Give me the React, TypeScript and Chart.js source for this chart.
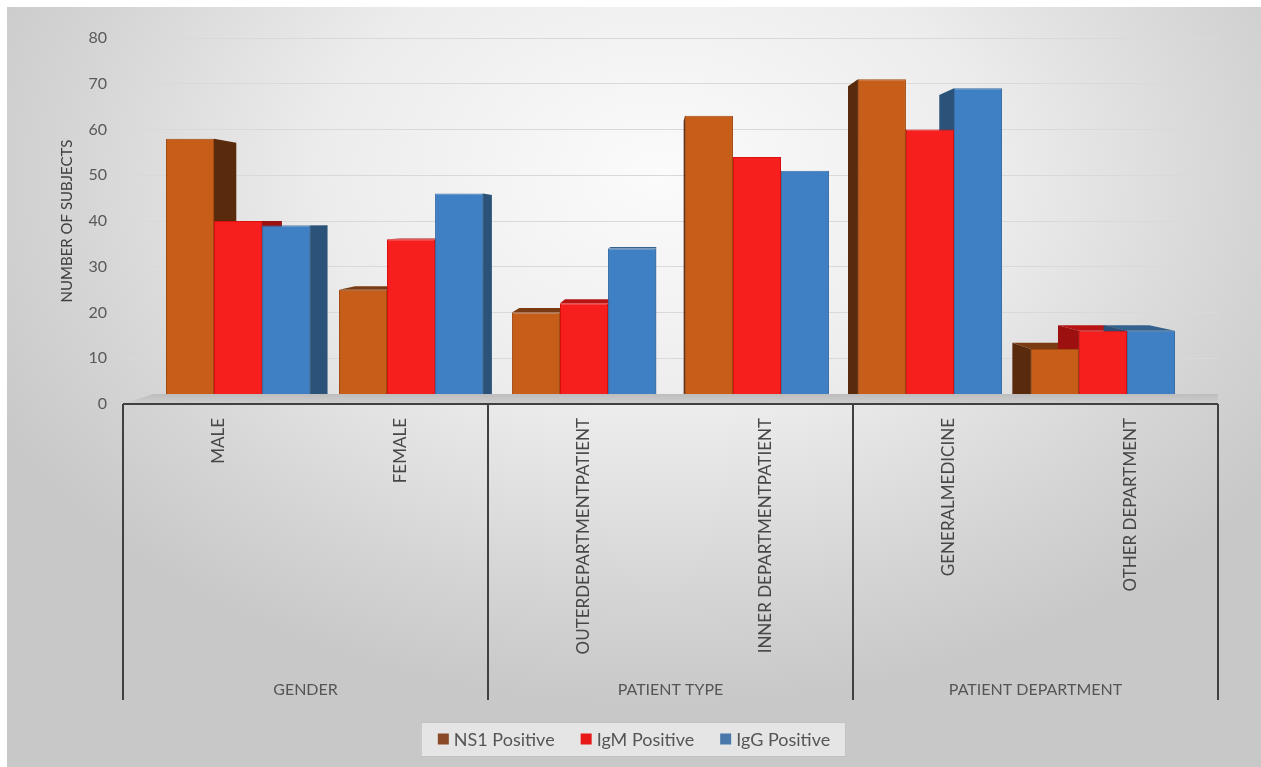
import React, { useEffect, useRef } from "react";
import { Chart, registerables } from "chart.js";

Chart.register(...registerables);

const categories = ["MALE", "FEMALE", "OUTERDEPARTMENTPATIENT", "INNER DEPARTMENTPATIENT", "GENERALMEDICINE", "OTHER DEPARTMENT"];
const groups = ["GENDER", "PATIENT TYPE", "PATIENT DEPARTMENT"];
const seriesNames = ["NS1 Positive", "IgM Positive", "IgG Positive"];
const ns1Values = [58, 25, 20, 63, 71, 12];
const igmValues = [40, 36, 22, 54, 60, 16];
const iggValues = [39, 46, 34, 51, 69, 16];
const yTicks = [0, 10, 20, 30, 40, 50, 60, 70, 80];
const yTitle = "NUMBER OF SUBJECTS";

const COLORS = ["#C65E1A", "#F71E1E", "#3F80C4"];
const SIDE = ["#5a2a0c", "#9c1010", "#2b5278"];
const TOPC = ["#7a3a12", "#b81414", "#34628f"];
const EDGE = ["#a24a12", "#d81010", "#3a6ea6"];
const LEGEND_SW = ["#8a4a28", "#e81818", "#4a78aa"];
const FONT = "Lato, 'Open Sans', sans-serif";

// perspective for the 3-D look (relative to chart area)
const VP = { fx: 0.49, fy: 0.5 };
const DEPTH = 0.05;

const depthPlugin = {
  id: "depth",
  beforeDatasetsDraw(chart: any) {
    const { ctx, chartArea } = chart;
    const vx = chartArea.left + (chartArea.right - chartArea.left) * VP.fx;
    const vy = chartArea.top + (chartArea.bottom - chartArea.top) * VP.fy;
    const back = (px: number, py: number) => [px + (vx - px) * DEPTH, py + (vy - py) * DEPTH];
    ctx.save();
    chart.data.datasets.forEach((ds: any, di: number) => {
      const meta = chart.getDatasetMeta(di);
      meta.data.forEach((el: any) => {
        const { x, y, base, width } = el.getProps(["x", "y", "base", "width"], true);
        const x0 = x - width / 2;
        const x1 = x + width / 2;
        const top = y;
        const bot = base;
        const poly = (pts: number[][], color: string) => {
          ctx.beginPath();
          ctx.moveTo(pts[0][0], pts[0][1]);
          for (let k = 1; k < pts.length; k++) ctx.lineTo(pts[k][0], pts[k][1]);
          ctx.closePath();
          ctx.fillStyle = color;
          ctx.fill();
        };
        if (top > vy) {
          poly([[x0, top], [x1, top], back(x1, top), back(x0, top)], TOPC[di]);
        }
        if (x1 < vx) {
          poly([[x1, top], back(x1, top), back(x1, bot), [x1, bot]], SIDE[di]);
        } else if (x0 > vx) {
          poly([[x0, top], back(x0, top), back(x0, bot), [x0, bot]], SIDE[di]);
        }
      });
    });
    ctx.restore();
  },
};

const decorPlugin = {
  id: "decor",
  afterDatasetsDraw(chart: any) {
    const { ctx, chartArea, width: cw } = chart;
    const xs = chart.scales.x;
    const left = chartArea.left;
    const right = chartArea.right;
    const bottom = chartArea.bottom;
    ctx.save();
    // floor strip
    const g = ctx.createLinearGradient(0, bottom - 10, 0, bottom);
    g.addColorStop(0, "#bdbdbd");
    g.addColorStop(1, "#cfcfcf");
    ctx.fillStyle = g;
    ctx.beginPath();
    ctx.moveTo(left + 30, bottom - 10);
    ctx.lineTo(right, bottom - 10);
    ctx.lineTo(right, bottom);
    ctx.lineTo(left, bottom);
    ctx.closePath();
    ctx.fill();
    // axis line
    ctx.strokeStyle = "#404040";
    ctx.lineWidth = 2;
    ctx.beginPath();
    ctx.moveTo(left, bottom);
    ctx.lineTo(right, bottom);
    ctx.stroke();
    // separators between the groups
    const half = (xs.getPixelForValue(1) - xs.getPixelForValue(0)) / 2;
    const sepIdx = [0, 2, 4, 6];
    ctx.beginPath();
    sepIdx.forEach((i) => {
      const x = i < categories.length ? xs.getPixelForValue(i) - half : xs.getPixelForValue(categories.length - 1) + half;
      ctx.moveTo(x, bottom);
      ctx.lineTo(x, bottom + 296);
    });
    ctx.stroke();
    // category labels
    ctx.fillStyle = "#474747";
    ctx.font = `17px ${FONT}`;
    categories.forEach((c, i) => {
      const x = xs.getPixelForValue(i) + 4;
      ctx.save();
      ctx.translate(x, bottom + 14);
      ctx.rotate(-Math.PI / 2);
      ctx.textAlign = "right";
      ctx.textBaseline = "middle";
      ctx.fillText(c, 0, 0);
      ctx.restore();
    });
    // group labels
    ctx.fillStyle = "#555555";
    ctx.font = `16px ${FONT}`;
    ctx.textAlign = "center";
    ctx.textBaseline = "middle";
    groups.forEach((gname, gi) => {
      const x = (xs.getPixelForValue(gi * 2) + xs.getPixelForValue(gi * 2 + 1)) / 2;
      ctx.fillText(gname, x, bottom + 286);
    });

    // legend
    ctx.font = `18px ${FONT}`;
    const sw = 11;
    const gapIn = 5;
    const gapOut = 26;
    const widths = seriesNames.map((s) => ctx.measureText(s).width);
    const total = widths.reduce((a, w) => a + sw + gapIn + w, 0) + gapOut * (seriesNames.length - 1);
    const cy = bottom + 335;
    let lx = cw / 2 - total / 2;
    const fx0 = lx - 17;
    const fx1 = lx + total + 15;
    ctx.fillStyle = "rgba(232,232,232,0.9)";
    ctx.fillRect(fx0, cy - 17, fx1 - fx0, 34);
    ctx.strokeStyle = "#c2c2c2";
    ctx.lineWidth = 1;
    ctx.strokeRect(fx0 + 0.5, cy - 16.5, fx1 - fx0, 34);
    ctx.textAlign = "left";
    ctx.textBaseline = "middle";
    seriesNames.forEach((s, i) => {
      ctx.fillStyle = LEGEND_SW[i];
      ctx.fillRect(lx, cy - sw / 2, sw, sw);
      lx += sw + gapIn;
      ctx.fillStyle = "#555555";
      ctx.fillText(s, lx, cy + 1);
      lx += widths[i] + gapOut;
    });
    ctx.restore();
  },
};

export default function App() {
  const ref = useRef<HTMLCanvasElement | null>(null);
  useEffect(() => {
    if (!ref.current) return;
    const chart = new Chart(ref.current, {
      type: "bar",
      data: {
        labels: categories,
        datasets: [ns1Values, igmValues, iggValues].map((vals, i) => ({
          label: seriesNames[i],
          data: vals.map((v, k) => ({ x: k, y: v })),
          xAxisID: "xb",
          backgroundColor: COLORS[i],
          borderColor: EDGE[i],
          borderWidth: 1,
          categoryPercentage: 0.833,
          barPercentage: 1.0,
        })),
      },
      options: {
        animation: false,
        responsive: false,
        maintainAspectRatio: false,
        layout: { padding: { left: 49, right: 43, top: 31, bottom: 46 } },
        plugins: {
          tooltip: { enabled: false },
          legend: { display: false },
        },
        scales: {
          x: {
            type: "category",
            grid: { display: false },
            border: { display: false },
            ticks: { display: false },
            afterFit: (s: any) => {
              s.height = 317;
            },
          },
          xb: {
            type: "linear",
            display: false,
            min: -0.665,
            max: 5.665,
            offset: false,
            afterBuildTicks: (s: any) => {
              s.ticks = categories.map((_, k) => ({ value: k }));
            },
          },
          y: {
            min: 0,
            max: 80,
            afterBuildTicks: (s: any) => {
              s.ticks = yTicks.map((v) => ({ value: v }));
            },
            afterFit: (s: any) => {
              s.width = 67;
            },
            grid: { color: "#d9d9d9", drawTicks: false, lineWidth: 1 },
            border: { display: false },
            ticks: { color: "#595959", font: { family: FONT, size: 16 }, padding: 16 },
            title: {
              display: true,
              text: yTitle,
              color: "#404040",
              font: { family: FONT, size: 15 },
              padding: { top: 2, bottom: 4 },
            },
          },
        },
      },
      plugins: [depthPlugin, decorPlugin],
    });
    return () => chart.destroy();
  }, []);
  return (
    <div
      style={{
        position: "fixed",
        left: 7,
        top: 7,
        width: 1254,
        height: 760,
        background: "radial-gradient(ellipse 60% 70% at 52% 22%, #fbfbfb 0%, #ececec 45%, #d4d4d4 80%, #c8c8c8 100%)",
      }}
    >
      <canvas ref={ref} width={1254} height={760} style={{ display: "block" }} />
    </div>
  );
}
